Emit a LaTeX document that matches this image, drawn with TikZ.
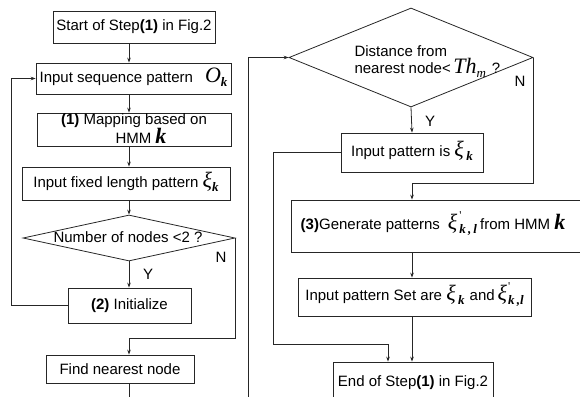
\documentclass[tikz,border=0pt]{standalone}
\usepackage{fontspec}
\setmainfont{Liberation Sans}
\newfontfamily\tms{Liberation Serif}
\usetikzlibrary{shapes.geometric,arrows.meta}

% large serif italic symbols, their subscripts and primes
\newcommand{\bsym}[1]{\smash{{\tms\fontsize{22}{22}\selectfont\itshape #1}}}
\newcommand{\bsymb}[1]{\smash{{\tms\fontsize{22}{22}\selectfont\bfseries\itshape #1}}}
\newcommand{\bsub}[1]{\smash{\raisebox{-4pt}{\tms\fontsize{13}{13}\selectfont\bfseries\itshape #1}}}
\newcommand{\isub}[1]{\smash{\raisebox{-4pt}{\tms\fontsize{13}{13}\selectfont\itshape #1}}}
\newcommand{\bprime}{\smash{\rlap{\raisebox{10pt}{\tms\fontsize{12}{12}\selectfont '}}}}

\begin{document}
\begin{tikzpicture}[x=1pt,y=-1pt,
  every node/.style={font=\fontsize{15}{17}\selectfont, text=black},
  box/.style={draw=black!85, line width=0.8pt, rectangle, inner sep=0pt},
  dec/.style={draw=black!85, line width=0.8pt, diamond, inner sep=0pt},
  line/.style={draw=black!85, line width=0.8pt},
  arr/.style={line, -{Stealth[length=5pt,width=3.6pt]}}]
\useasboundingbox (0,0) rectangle (580,396);
\clip (0,0) rectangle (580,396);

% guide coordinates for the vertical spines and bends
\coordinate (spineL) at (129,0);
\coordinate (spineR) at (412,0);
\coordinate (loopL) at (11,0);
\coordinate (nbend) at (129,338);
\coordinate (gbend) at (412,183);
\coordinate (ybend) at (273,344);
\coordinate (yend) at (388,344);
\coordinate (findout) at (129,400);
\coordinate (loopin) at (248,400);

% left column
\node[box, minimum width=162pt, minimum height=32pt] (start) at (134,27)
  {Start of Step\textbf{(1)} in Fig.2};
\node[box, minimum width=195pt, minimum height=31pt] (inseq) at (133.5,78.5)
  {Input sequence pattern\hspace{12pt}\bsym{O}\bsub{k}};
\node[box, minimum width=194pt, minimum height=33pt] (map) at (134,129.5) {};
\node[align=center] (maptext) at (134,128.5)
  {\textbf{(1)} Mapping based on\\[2pt]\hspace{14pt}HMM \bsymb{k}};
\node[box, minimum width=208pt, minimum height=33pt] (fixed) at (126,183.5)
  {Input fixed length pattern \bsym{ξ}\bsub{k}};
\node[dec, minimum width=212pt, minimum height=46pt] (d1) at (129,238) {};
\node (d1text) at (128,237) {Number of nodes <2 ?};
\node[box, minimum width=123pt, minimum height=35pt] (init) at (129.5,305.5)
  {\textbf{(2)} Initialize};
\node[box, minimum width=148pt, minimum height=28pt] (find) at (120,369)
  {Find nearest node};

% right column
\node[dec, minimum width=244pt, minimum height=99pt] (d2) at (411,57.5) {};
\node[anchor=west, align=left] (d2text) at (351,60)
  {Distance from\\nearest node<\,\bsym{Th}\isub{m}\hspace{6pt}?};
\node[box, minimum width=142pt, minimum height=39pt] (inpat) at (412,152.5)
  {Input pattern is \bsym{ξ}\,\bsub{k}};
\node[box, minimum width=299pt, minimum height=52pt] (gen) at (440.5,226) {};
\node (gentext) at (433,226)
  {\textbf{(3)}Generate patterns\hspace{8pt}\bsym{ξ}\hspace{2pt}\bprime\bsub{k\,,\,l}\hspace{3pt}from HMM \bsymb{k}};
\node[box, minimum width=233pt, minimum height=38pt] (set) at (414.5,297)
  {Input pattern Set are \bsym{ξ}\,\bsub{k}\hspace{5pt}and\hspace{3pt}\bsym{ξ}\hspace{1pt}\bprime\bsub{k\,,l}};
\node[box, minimum width=160pt, minimum height=42pt] (end) at (413,383) {};
\node (endtext) at (413,383) {End of Step\textbf{(1)} in Fig.2};

% branch labels
\node (n1) at (221,257) {N};
\node (y1) at (148,274) {Y};
\node (n2) at (520,81) {N};
\node (y2) at (430,121) {Y};

% left column connectors
\draw[arr] (start.south -| spineL) -- (inseq.north -| spineL);
\draw[arr] (inseq.south -| spineL) -- (map.north -| spineL);
\draw[arr] (map.south -| spineL) -- (fixed.north -| spineL);
\draw[arr] (fixed.south -| spineL) -- (d1.north);
\draw[arr] (d1.south) -- (init.north -| spineL);
\draw[arr] (init.west) -- (init.west -| loopL) |- (inseq.west);
\draw[arr] (d1.east) |- (nbend) -- (find.north -| nbend);
\draw[line] (find.south -| spineL) -- (findout);

% long return into the distance test
\draw[arr] (loopin) |- (d2.west);

% right column connectors
\draw[arr] (d2.south) -- (inpat.north);
\draw[arr] (d2.east) |- (gbend) -- (gen.north -| gbend);
\draw[arr] (gen.south -| spineR) -- (set.north -| spineR);
\draw[arr] (set.south -| spineR) -- (end.north -| spineR);
\draw[arr] (inpat.west) -| (ybend) -- (yend) -- (end.north -| yend);
\end{tikzpicture}
\end{document}
